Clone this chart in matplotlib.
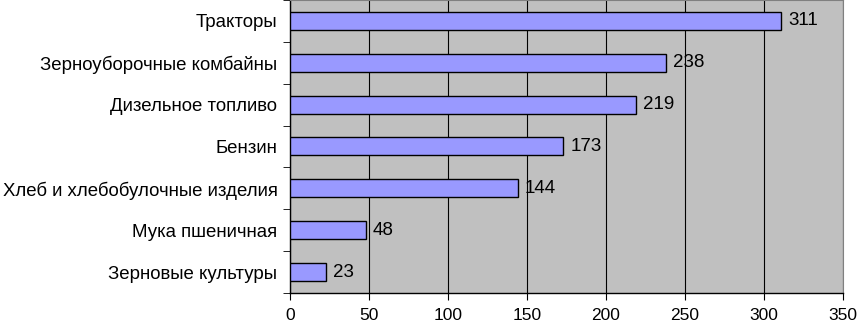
import numpy as np
import matplotlib.pyplot as plt

plt.rcParams['font.family'] = ['Liberation Sans', 'DejaVu Sans']

categories = ['Тракторы', 'Зерноуборочные комбайны', 'Дизельное топливо', 'Бензин',
              'Хлеб и хлебобулочные изделия', 'Мука пшеничная', 'Зерновые культуры']
values = [311, 238, 219, 173, 144, 48, 23]
x_ticks = [0, 50, 100, 150, 200, 250, 300, 350]

fig = plt.figure(figsize=(8.59, 3.23), dpi=100)
ax = fig.add_axes([0.3376, 0.0929, 0.6438, 0.9071])
ax.set_facecolor('#C0C0C0')

y = np.arange(len(categories))[::-1]
ax.barh(y, values, height=0.43, color='#9999FF', edgecolor='black', linewidth=1, zorder=3)
for yi, v in zip(y, values):
    ax.text(v + 4.5, yi, str(v), va='center', ha='left', fontsize=13.5, zorder=4)

ax.set_xlim(0, 350)
ax.set_ylim(-0.5, len(categories) - 0.5)
ax.set_xticks(x_ticks)
ax.set_xticklabels([str(t) for t in x_ticks], fontsize=12.5)
ax.set_yticks(y)
ax.set_yticklabels(categories, fontsize=13.4)
ax.tick_params(axis='y', length=0, pad=9)
ax.tick_params(axis='x', length=5, pad=6)
ax.set_yticks(np.arange(-0.5, len(categories)), minor=True)
ax.tick_params(axis='y', which='minor', length=5)
ax.grid(axis='x', color='black', linewidth=0.8, zorder=1)

for s in ['top', 'right']:
    ax.spines[s].set_color('#808080')
    ax.spines[s].set_linewidth(0.8)
ax.spines['left'].set_linewidth(1)
ax.spines['bottom'].set_linewidth(1)

fig.savefig('out.png', dpi=100)
